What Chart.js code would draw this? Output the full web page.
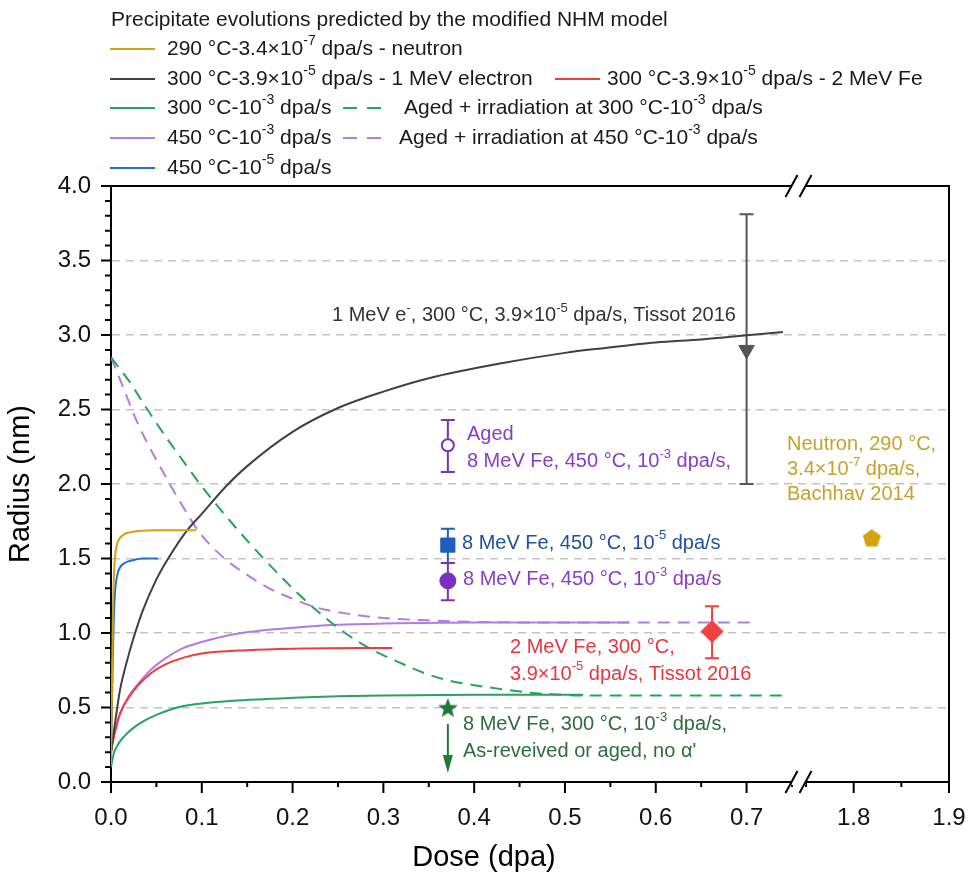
<!DOCTYPE html>
<html>
<head>
<meta charset="utf-8">
<title>Precipitate radius vs dose</title>
<style>
    body { margin: 0; background: #fff; }
    #wrap { width: 970px; height: 885px; }
</style>
<script src="https://cdn.jsdelivr.net/npm/chart.js"></script>
</head>
<body>
<div id="wrap"><canvas id="radiusChart" width="970" height="885"></canvas></div>
<script>
// model curves, [dose (dpa), radius (nm)]
const neutron290 = [[0,0.12],[0.001,0.6],[0.002,1.1],[0.003,1.35],[0.004,1.48],[0.006,1.58],[0.009,1.63],[0.014,1.66],[0.02,1.675],[0.03,1.685],[0.05,1.69],[0.094,1.69]];
const electron300 = [[0,0.2],[0.005,0.42],[0.01,0.62],[0.018,0.82],[0.024,0.95],[0.035,1.15],[0.05,1.36],[0.063,1.5],[0.084,1.69],[0.1,1.8],[0.126,1.98],[0.15,2.12],[0.2,2.35],[0.25,2.51],[0.3,2.62],[0.35,2.71],[0.43,2.81],[0.5,2.88],[0.54,2.91],[0.6,2.95],[0.65,2.97],[0.74,3.02]];
const fe300 = [[0,0.2],[0.003,0.3],[0.01,0.46],[0.02,0.57],[0.03,0.65],[0.045,0.735],[0.06,0.79],[0.08,0.835],[0.1,0.862],[0.15,0.885],[0.2,0.895],[0.31,0.9]];
const ion300 = [[0,0.1],[0.003,0.19],[0.008,0.255],[0.015,0.31],[0.024,0.36],[0.035,0.405],[0.05,0.45],[0.065,0.485],[0.08,0.51],[0.1,0.527],[0.134,0.545],[0.2,0.565],[0.25,0.575],[0.3,0.58],[0.4,0.585],[0.52,0.585]];
const aged300 = [[0,2.85],[0.02,2.69],[0.039,2.51],[0.06,2.32],[0.08,2.15],[0.098,2.0],[0.13,1.76],[0.168,1.5],[0.2,1.3],[0.223,1.17],[0.258,1.0],[0.29,0.88],[0.322,0.79],[0.35,0.72],[0.373,0.68],[0.4,0.65],[0.428,0.625],[0.46,0.6],[0.483,0.59],[0.52,0.58],[0.6,0.58],[0.74,0.58]];
const ion450 = [[0,0.2],[0.003,0.3],[0.01,0.46],[0.02,0.58],[0.03,0.66],[0.045,0.76],[0.06,0.83],[0.08,0.9],[0.1,0.94],[0.134,0.99],[0.17,1.02],[0.21,1.04],[0.25,1.055],[0.3,1.063],[0.4,1.07],[0.57,1.07]];
const aged450 = [[0,2.85],[0.01,2.7],[0.03,2.4],[0.061,2.04],[0.08,1.84],[0.098,1.67],[0.127,1.49],[0.15,1.39],[0.171,1.31],[0.2,1.23],[0.227,1.17],[0.26,1.13],[0.3,1.1],[0.35,1.085],[0.4,1.075],[0.5,1.07],[0.706,1.07]];
const ion450slow = [[0,0.15],[0.001,0.5],[0.002,0.85],[0.003,1.08],[0.0045,1.28],[0.007,1.39],[0.01,1.44],[0.015,1.47],[0.025,1.49],[0.035,1.5],[0.052,1.5]];

// experiments
const expDose   = [0.70, 0.371, 0.371, 0.371, 0.662, 0.371, 1.819];
const expRadius = [2.90, 2.26, 1.59, 1.35, 1.01, 0.50, 1.64];
const expLow    = [2.00, 2.08, 1.47, 1.22, 0.83, null, null];
const expHigh   = [3.81, 2.43, 1.70, 1.47, 1.18, null, null];
const arrowFrom = [null, null, null, null, null, 0.39, null];
const arrowTo   = [null, null, null, null, null, 0.06, null];

// axes
const yTicks = [0, 0.5, 1.0, 1.5, 2.0, 2.5, 3.0, 3.5, 4.0];
const xTicksLow = [0, 0.1, 0.2, 0.3, 0.4, 0.5, 0.6, 0.7];
const xTicksHigh = [1.8, 1.9];

const FONT = '"Liberation Sans", Arial, sans-serif';

function marker(kind, size, color) {
    const c = document.createElement('canvas');
    c.width = c.height = size;
    const g = c.getContext('2d');
    g.fillStyle = color;
    g.beginPath();
    const n = kind === 'star' ? 10 : 5;
    const R = size / 2 - 0.5;
    for (let i = 0; i < n; i++) {
        const rad = (kind === 'star' && i % 2) ? R * 0.42 : R;
        const a = -Math.PI / 2 + i * 2 * Math.PI / n;
        g.lineTo(size / 2 + rad * Math.cos(a), size / 2 + rad * Math.sin(a) + 1);
    }
    g.closePath();
    g.fill();
    return c;
}

function line(label, pts, color, dash) {
    return {
        type: 'line', label: label, xAxisID: 'x',
        data: pts.map(p => ({x: p[0], y: p[1]})),
        borderColor: color, borderWidth: 2, borderDash: dash || [],
        pointRadius: 0, cubicInterpolationMode: 'monotone', fill: false
    };
}

const curves = [
    line('290 °C-3.4×10^{-7} dpa/s - neutron', neutron290, '#d4a20f'),
    line('300 °C-3.9×10^{-5} dpa/s - 1 MeV electron', electron300, '#404040'),
    line('300 °C-3.9×10^{-5} dpa/s - 2 MeV Fe', fe300, '#ef3b3b'),
    line('300 °C-10^{-3} dpa/s', ion300, '#27a360'),
    line('Aged + irradiation at 300 °C-10^{-3} dpa/s', aged300, '#27a360', [12, 8]),
    line('450 °C-10^{-3} dpa/s', ion450, '#b47be2'),
    line('Aged + irradiation at 450 °C-10^{-3} dpa/s', aged450, '#b47be2', [12, 8]),
    line('450 °C-10^{-5} dpa/s', ion450slow, '#1f6fd6')
];

const expStyle = [
    {style: 'triangle', rot: 180, r: 9, fill: '#555555', stroke: '#555555'},
    {style: 'circle', r: 6, fill: '#ffffff', stroke: '#7a30c0', bw: 2},
    {style: 'rect', r: 10, fill: '#1e5fbf', stroke: '#1e5fbf'},
    {style: 'circle', r: 8, fill: '#7a30c0', stroke: '#7a30c0'},
    {style: 'rectRot', r: 11, fill: '#f04040', stroke: '#f04040'},
    {style: marker('star', 22, '#1f7a3a'), r: 11, fill: '#1f7a3a', stroke: '#1f7a3a'},
    {style: marker('pent', 20, '#d4a20f'), r: 10, fill: '#d4a20f', stroke: '#d4a20f'}
];

const points = expDose.map((d, i) => ({
    type: 'scatter', label: 'exp' + i, xAxisID: d > 1 ? 'x2' : 'x',
    data: [{x: d, y: expRadius[i]}],
    pointStyle: expStyle[i].style, rotation: expStyle[i].rot || 0,
    pointRadius: expStyle[i].r, pointBackgroundColor: expStyle[i].fill,
    pointBorderColor: expStyle[i].stroke, pointBorderWidth: expStyle[i].bw || 1,
    errLow: expLow[i], errHigh: expHigh[i], arrowFrom: arrowFrom[i], arrowTo: arrowTo[i]
}));

// text on the plot, placed in data units of the left dose axis
const notes = [
    {t: ['1 MeV e^{-}, 300 °C, 3.9×10^{-5} dpa/s, Tissot 2016'], x: 0.2434, y: 3.128, c: '#333333'},
    {t: ['Aged', '8 MeV Fe, 450 °C, 10^{-3} dpa/s,'], x: 0.392, y: 2.329, c: '#8a3cc8'},
    {t: ['8 MeV Fe, 450 °C, 10^{-5} dpa/s'], x: 0.3866, y: 1.604, c: '#1f4f9f'},
    {t: ['8 MeV Fe, 450 °C, 10^{-3} dpa/s'], x: 0.3877, y: 1.356, c: '#8a3cc8'},
    {t: ['2 MeV Fe, 300 °C,', '3.9×10^{-5} dpa/s, Tissot 2016'], x: 0.4394, y: 0.906, c: '#e8363f'},
    {t: ['8 MeV Fe, 300 °C, 10^{-3} dpa/s,', "As-reveived or aged, no α'"], x: 0.3877, y: 0.383, c: '#2f6b3d'},
    {t: ['Neutron, 290 °C,', '3.4×10^{-7} dpa/s,', 'Bachhav 2014'], x: 0.7445, y: 2.262, c: '#c9a02a', gap: 25}
];

// legend placement (pixels): dataset index, line start, line end, text start, row y
const legendItems = [
    [0, 110, 155, 167, 49],
    [1, 110, 155, 167, 79], [2, 555, 600, 607, 79],
    [3, 110, 155, 167, 108], [4, 343, 388, 404, 108],
    [5, 110, 155, 167, 138], [6, 343, 384, 399, 138],
    [7, 110, 155, 167, 168]
];

function drawRich(ctx, str, x, y, size, color) {
    const parts = str.split(/(\^\{[^}]*\})/);
    ctx.save();
    ctx.fillStyle = color;
    ctx.textBaseline = 'middle';
    ctx.textAlign = 'left';
    let cx = x;
    for (const p of parts) {
        if (!p) continue;
        const sup = p.startsWith('^{');
        const t = sup ? p.slice(2, -1) : p;
        const fs = sup ? Math.round(size * 0.65) : size;
        ctx.font = fs + 'px ' + FONT;
        ctx.fillText(t, cx, sup ? y - size * 0.36 : y);
        cx += ctx.measureText(t).width;
    }
    ctx.restore();
    return cx;
}

const decor = {
    id: 'decor',
    beforeDatasetsDraw(chart) {
        const ctx = chart.ctx, ys = chart.scales.y;
        chart.data.datasets.forEach(ds => {
            const xs = chart.scales[ds.xAxisID];
            const px = xs.getPixelForValue(ds.data[0] ? ds.data[0].x : 0);
            ctx.save();
            ctx.strokeStyle = ds.pointBorderColor;
            ctx.fillStyle = ds.pointBorderColor;
            ctx.lineWidth = 2;
            if (ds.errLow != null) {
                const a = ys.getPixelForValue(ds.errLow), b = ys.getPixelForValue(ds.errHigh);
                ctx.beginPath();
                ctx.moveTo(px, a); ctx.lineTo(px, b);
                ctx.moveTo(px - 7, a); ctx.lineTo(px + 7, a);
                ctx.moveTo(px - 7, b); ctx.lineTo(px + 7, b);
                ctx.stroke();
            }
            if (ds.arrowFrom != null) {
                const a = ys.getPixelForValue(ds.arrowFrom), b = ys.getPixelForValue(ds.arrowTo);
                ctx.beginPath();
                ctx.moveTo(px, a); ctx.lineTo(px, b - 14);
                ctx.stroke();
                ctx.beginPath();
                ctx.moveTo(px - 5, b - 18); ctx.lineTo(px + 5, b - 18); ctx.lineTo(px, b);
                ctx.closePath();
                ctx.fill();
            }
            ctx.restore();
        });
    },
    afterDraw(chart) {
        const ctx = chart.ctx, a = chart.chartArea;
        const ys = chart.scales.y, xl = chart.scales.x, xh = chart.scales.x2;
        ctx.save();
        ctx.strokeStyle = '#000';
        ctx.lineWidth = 2;
        // frame top and right
        ctx.beginPath();
        ctx.moveTo(a.left, a.top); ctx.lineTo(a.right, a.top); ctx.lineTo(a.right, a.bottom);
        ctx.stroke();
        // y ticks
        ctx.beginPath();
        for (let i = 0; i <= 40; i++) {
            const py = ys.getPixelForValue(i / 10);
            ctx.moveTo(a.left - (i % 5 ? 6 : 10), py); ctx.lineTo(a.left, py);
        }
        // x ticks
        [xl, xh].forEach(s => {
            for (let i = Math.ceil(s.min * 20 - 1e-6); i <= Math.floor(s.max * 20 + 1e-6); i++) {
                const px = s.getPixelForValue(i / 20);
                ctx.moveTo(px, a.bottom); ctx.lineTo(px, a.bottom + (i % 2 ? 5 : 11));
            }
        });
        ctx.stroke();
        // axis break
        const xb = xl.right + 2;
        ctx.fillStyle = '#fff';
        ctx.fillRect(xb - 7, a.top - 3, 14, 6);
        ctx.fillRect(xb - 7, a.bottom - 3, 14, 6);
        ctx.beginPath();
        [a.top, a.bottom].forEach(y => {
            [-7, 7].forEach(o => { ctx.moveTo(xb + o - 6, y + 11); ctx.lineTo(xb + o + 6, y - 11); });
        });
        ctx.stroke();
        // x title
        ctx.fillStyle = '#000';
        ctx.font = '29px ' + FONT;
        ctx.textAlign = 'center';
        ctx.textBaseline = 'middle';
        ctx.fillText('Dose (dpa)', 484, 858);
        ctx.restore();

        // notes
        notes.forEach(n => {
            const px = xl.getPixelForValue(n.x), py = ys.getPixelForValue(n.y);
            n.t.forEach((s, k) => drawRich(ctx, s, px, py + k * (n.gap || 27), 20, n.c));
        });

        // legend
        drawRich(ctx, 'Precipitate evolutions predicted by the modified NHM model', 111, 20, 21, '#1a1a1a');
        legendItems.forEach(([di, x1, x2, tx, y]) => {
            const ds = chart.data.datasets[di];
            ctx.save();
            ctx.strokeStyle = ds.borderColor;
            ctx.lineWidth = 2;
            ctx.setLineDash(ds.borderDash.length ? [14, 10] : []);
            ctx.beginPath(); ctx.moveTo(x1, y); ctx.lineTo(x2, y); ctx.stroke();
            ctx.restore();
            drawRich(ctx, ds.label, tx, y, 21, '#1a1a1a');
        });
    }
};

const tickFont = {size: 24, family: FONT};
const fitX = s => { s.height = 103; s.paddingLeft = 0; s.paddingRight = 0; };

new Chart(document.getElementById('radiusChart').getContext('2d'), {
    data: {datasets: curves.concat(points)},
    options: {
        responsive: false,
        animation: false,
        layout: {padding: {top: 186, right: 21, left: 0, bottom: 0}},
        plugins: {legend: {display: false}, tooltip: {enabled: false}},
        scales: {
            x: {
                type: 'linear', position: 'bottom', stack: 'dose', stackWeight: 685.5,
                min: 0, max: 0.755,
                afterBuildTicks: s => { s.ticks = xTicksLow.map(v => ({value: v})); },
                afterFit: fitX,
                grid: {drawOnChartArea: false, drawTicks: false},
                border: {color: '#000', width: 2},
                ticks: {font: tickFont, color: '#111', padding: 22, maxRotation: 0, autoSkip: false, callback: v => v.toFixed(1)}
            },
            x2: {
                type: 'linear', position: 'bottom', stack: 'dose', stackWeight: 152.5,
                min: 1.74, max: 1.9,
                afterBuildTicks: s => { s.ticks = xTicksHigh.map(v => ({value: v})); },
                afterFit: fitX,
                grid: {drawOnChartArea: false, drawTicks: false},
                border: {color: '#000', width: 2},
                ticks: {font: tickFont, color: '#111', padding: 22, maxRotation: 0, autoSkip: false, callback: v => v.toFixed(1)}
            },
            y: {
                type: 'linear', position: 'left', min: 0, max: 4,
                afterBuildTicks: s => { s.ticks = yTicks.map(v => ({value: v})); },
                afterFit: s => { s.width = 111; s.paddingTop = 0; s.paddingBottom = 0; },
                grid: {
                    drawTicks: false, lineWidth: 1.5,
                    color: c => (c.tick && c.tick.value > 0.01 && c.tick.value < 3.99) ? '#c4c4c4' : 'rgba(0,0,0,0)'
                },
                border: {color: '#000', width: 2, dash: [8, 6]},
                ticks: {font: tickFont, color: '#111', padding: 20, callback: v => v.toFixed(1)},
                title: {display: true, text: 'Radius (nm)', font: {size: 29, family: FONT}, color: '#000', padding: {top: 4, bottom: 0}}
            }
        }
    },
    plugins: [decor]
});
</script>
</body>
</html>
